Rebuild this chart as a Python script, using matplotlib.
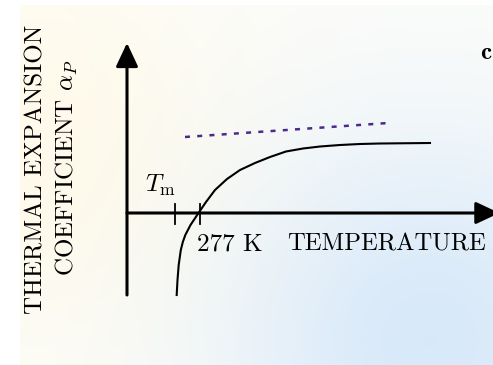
import numpy as np
import matplotlib.pyplot as plt

plt.rcParams['font.family'] = 'serif'
plt.rcParams['font.serif'] = ['cmr10']
plt.rcParams['mathtext.fontset'] = 'cm'
plt.rcParams['axes.formatter.use_mathtext'] = True

# thermal expansion coefficient (arbitrary units) vs temperature (K)
temp = [273.27, 273.40, 273.59, 273.93, 274.25, 274.65, 275.48, 276.76,
        277.96, 279.40, 281.32, 283.40, 285.80, 288.20, 290.76, 293.48,
        296.20, 299.40, 302.60, 305.80, 313.80]
alpha = [-8.2, -6.7, -5.2, -3.7, -2.9, -2.2, -1.2, 0.0,
         1.1, 2.3, 3.4, 4.3, 5.0, 5.6, 6.15, 6.45,
         6.65, 6.8, 6.9, 6.95, 7.0]

# dashed reference line
ref_temp = [274.6, 307.1]
ref_alpha = [7.6, 9.0]

t_melt = 273.0
t_zero = 277.0

fig = plt.figure(figsize=(4.93, 3.65), dpi=100)

# soft cream-to-blue backdrop
bg = fig.add_axes([0, 0, 1, 1])
yy, xx = np.mgrid[0:365, 0:493].astype(float)
white = np.array([253, 253, 250]) / 255
cream = np.array([255, 250, 234]) / 255
blue = np.array([216, 233, 250]) / 255
wc = np.exp(-((xx - 30) ** 2 + (yy - 150) ** 2) / (2 * 140 ** 2))
wb = np.exp(-((xx - 430) ** 2 + (yy - 340) ** 2) / (2 * 150 ** 2))
img = white + wc[..., None] * (cream - white) + wb[..., None] * (blue - white)
img[:, :20] = 1.0
img[:5, :] = 1.0
bg.imshow(np.clip(img, 0, 1), extent=(0, 493, 365, 0), aspect='auto')
bg.set_axis_off()

ax = fig.add_axes([0, 0, 1, 1])
ax.patch.set_alpha(0)
ax.set_xlim(245.0, 323.88)
ax.set_ylim(-15.2, 21.3)
ax.set_axis_off()

# axes with arrow heads
arrow = dict(arrowstyle='-|>,head_length=1.0,head_width=0.47', lw=2.2,
             color='black', mutation_scale=14.4, shrinkA=0, shrinkB=0)
ax.annotate('', xy=(265.32, 17.0), xytext=(265.32, -8.2), arrowprops=arrow)
ax.annotate('', xy=(324.9, 0.0), xytext=(265.32, 0.0), arrowprops=arrow,
            annotation_clip=False)

# tick marks at T_m and 277 K
for t in (t_melt, t_zero):
    ax.plot([t, t], [-1.1, 0.9], color='black', lw=1.3)

ax.plot(temp, alpha, color='black', lw=1.5)
ax.plot(ref_temp, ref_alpha, color='#4b2a8c', lw=1.8, linestyle=(0, (2.0, 2.9)))

ax.text(270.6, 2.8, r'$T_{\rm m}$', fontsize=18, ha='center', va='center')
ax.text(281.8, -3.1, '277 K', fontsize=18.2, ha='center', va='center')
ax.text(306.9, -3.1, 'TEMPERATURE', fontsize=17.8, ha='center', va='center')
ax.text(322.7, 16.0, 'c', fontsize=18, family='cmb10', ha='center', va='center')

fig.text(36 / 493, 1 - 169 / 365, 'THERMAL EXPANSION', rotation=90,
         fontsize=18, ha='center', va='center')
fig.text(67 / 493, 1 - 168 / 365, r'COEFFICIENT $\alpha_P$', rotation=90,
         fontsize=18, ha='center', va='center')

fig.savefig('out.png', dpi=100)
